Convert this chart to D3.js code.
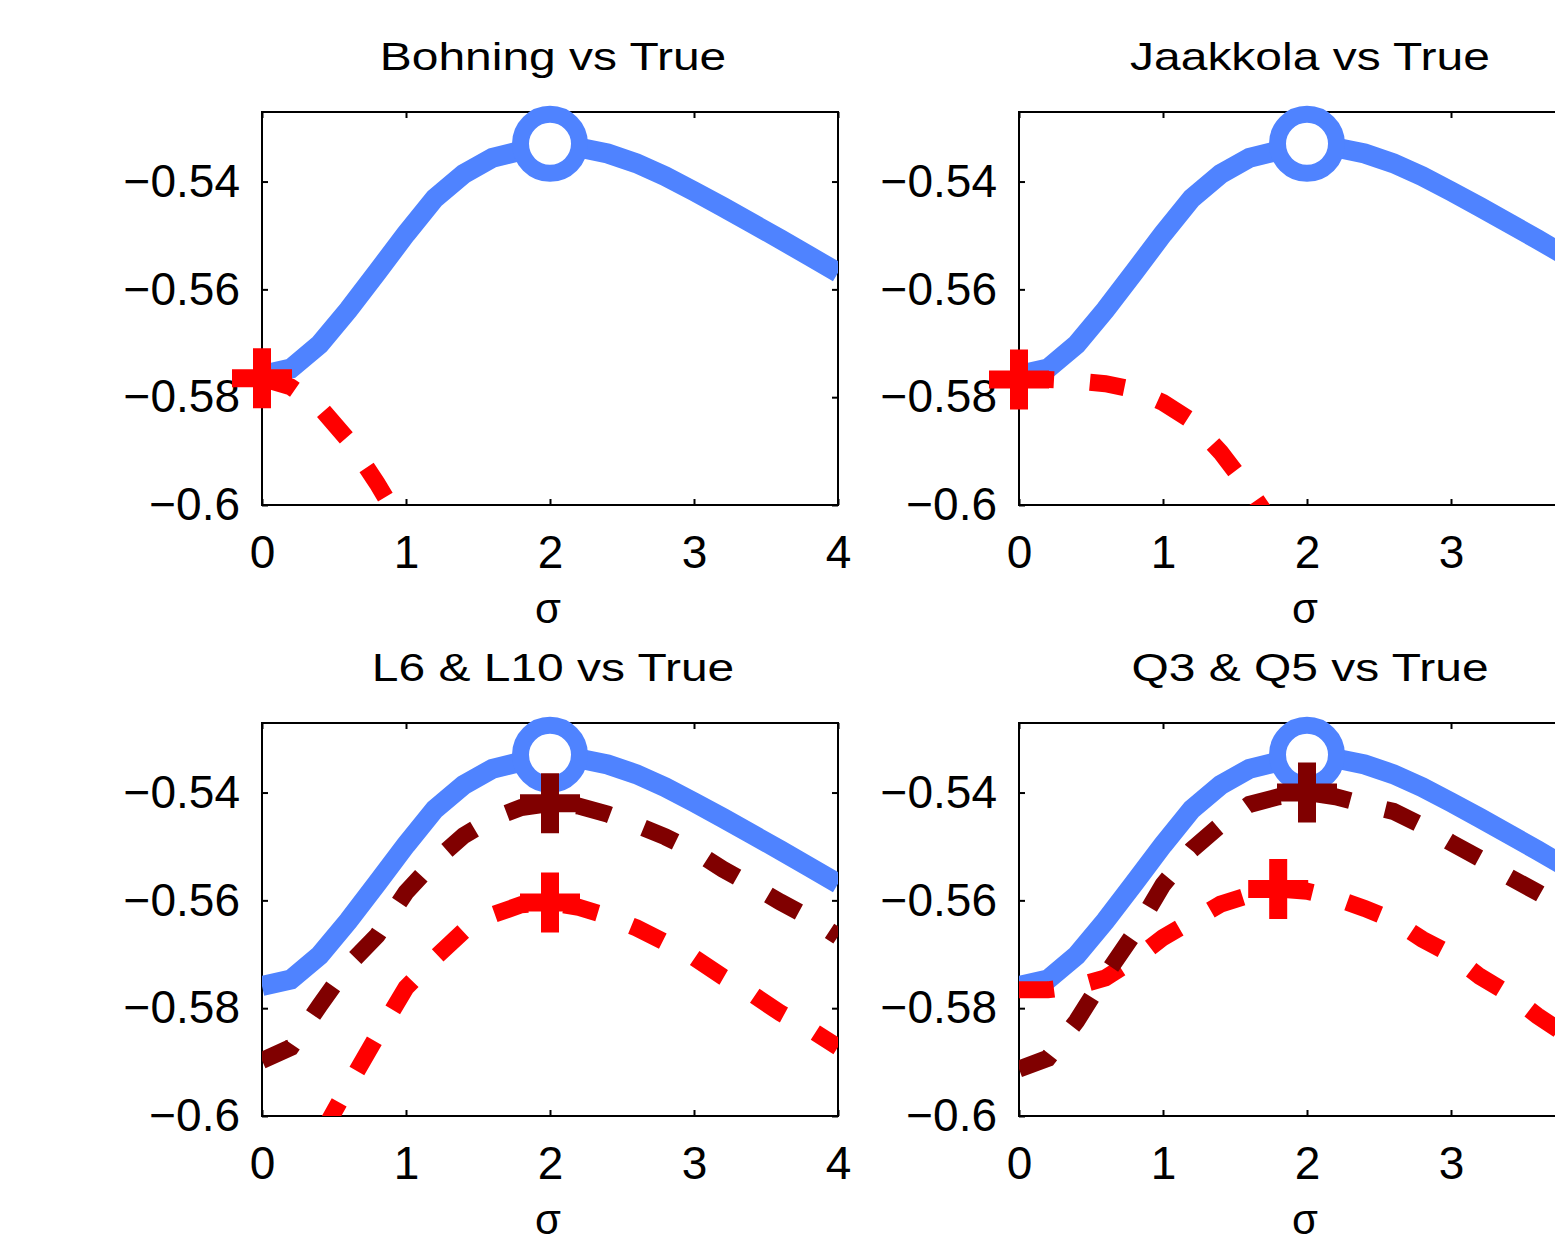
<!DOCTYPE html>
<html>
<head>
<meta charset="utf-8">
<script src="https://cdnjs.cloudflare.com/ajax/libs/d3/7.8.5/d3.min.js"></script>
<style>
  body { margin: 0; background: #fff; }
  text { font-family: "Liberation Sans", Arial, sans-serif; fill: #000; }
</style>
</head>
<body>
<div class="chart"></div>
<script>
//Data (sigma grid, step 0.2)
var sigma = [0, 0.2, 0.4, 0.6, 0.8, 1, 1.2, 1.4, 1.6, 1.8, 2, 2.2, 2.4, 2.6, 2.8, 3, 3.2, 3.4, 3.6, 3.8, 4];

var trueBound = [-0.5759, -0.5747, -0.5702, -0.5638, -0.5568, -0.5497, -0.5431, -0.5386, -0.5356, -0.5343, -0.5330,
  -0.5337, -0.5348, -0.5366, -0.5390, -0.5418, -0.5447, -0.5477, -0.5507, -0.5538, -0.5569];
var bohning = [-0.5765, -0.5781, -0.5818, -0.5880, -0.5960, -0.6050, -0.6170];
var jaakkola = [-0.5767, -0.5767, -0.5770, -0.5775, -0.5786, -0.5810, -0.5844, -0.5902, -0.5972, -0.6050, -0.6140];
var l6 = [-0.6270, -0.6150, -0.6040, -0.5944, -0.5851, -0.5762, -0.5707, -0.5657, -0.5627, -0.5608, -0.5604,
  -0.5613, -0.5629, -0.5651, -0.5678, -0.5706, -0.5742, -0.5773, -0.5809, -0.5838, -0.5872];
var l10 = [-0.5897, -0.5873, -0.5795, -0.5720, -0.5665, -0.5585, -0.5527, -0.5480, -0.5448, -0.5428, -0.5420,
  -0.5425, -0.5440, -0.5460, -0.5482, -0.5508, -0.5542, -0.5572, -0.5603, -0.5632, -0.5667];
var q3 = [-0.5766, -0.5766, -0.5759, -0.5744, -0.5710, -0.5669, -0.5638, -0.5607, -0.5590, -0.5579, -0.5583,
  -0.5596, -0.5615, -0.5637, -0.5672, -0.5700, -0.5741, -0.5773, -0.5814, -0.5850, -0.5890];
var q5 = [-0.5913, -0.5893, -0.5824, -0.5739, -0.5661, -0.5571, -0.5506, -0.5460, -0.5422, -0.5408, -0.5400,
  -0.5408, -0.5422, -0.5435, -0.5461, -0.5493, -0.5522, -0.5556, -0.5585, -0.5615, -0.5645];

var titles = ["Bohning vs True", "Jaakkola vs True", "L6 & L10 vs True", "Q3 & Q5 vs True"];
var xTicks = [0, 1, 2, 3, 4];
var xTickLabels = ["0", "1", "2", "3", "4"];
var yTicks = [-0.54, -0.56, -0.58, -0.6];
var yTickLabels = ["\u22120.54", "\u22120.56", "\u22120.58", "\u22120.6"];
var xLabel = "\u03c3";

//Define SVG
var svgWidth = 1555;
var svgHeight = 1243;
var width = 576;
var height = 393;

var red = "#ff0000";
var darkRed = "#800000";
var blue = "#4f83ff";

var panels = [
  {left: 262, top: 112, title: titles[0], bounds: [{values: bohning, color: red}]},
  {left: 1019, top: 112, title: titles[1], bounds: [{values: jaakkola, color: red}]},
  {left: 262, top: 723, title: titles[2], bounds: [{values: l6, color: red}, {values: l10, color: darkRed}]},
  {left: 1019, top: 723, title: titles[3], bounds: [{values: q3, color: red}, {values: q5, color: darkRed}]}
];

var svg = d3.select(".chart")
  .append("svg")
  .attr("width", svgWidth)
  .attr("height", svgHeight);

// Scales shared by all panels
var xScale = d3.scaleLinear().domain([0, 4]).range([0, width]);
var yScale = d3.scaleLinear().domain([-0.6, -0.5271]).range([height, 0]);

var line = d3.line()
  .x(d => xScale(d[0]))
  .y(d => yScale(d[1]));

function toPoints(values) {
  return values.map((v, i) => [sigma[i], v]);
}

function drawCross(g, x, y, color) {
  g.append("path")
    .attr("d", `M${x - 30},${y}H${x + 30}M${x},${y - 30}V${y + 30}`)
    .attr("stroke", color)
    .attr("stroke-width", 18)
    .attr("fill", "none");
}

panels.forEach(function(p, pi) {
  var g = svg.append("g")
    .attr("transform", `translate(${p.left}, ${p.top})`);

  g.append("clipPath")
    .attr("id", "clip" + pi)
    .append("rect")
    .attr("width", width)
    .attr("height", height);

  // Axes with inward ticks on all four sides
  // (labels that would sit past the page edge are left empty, like the cropped figure)
  var bottomAxis = d3.axisBottom(xScale).tickValues(xTicks).tickSizeInner(-6).tickSizeOuter(0).tickPadding(30)
    .tickFormat((d, i) => p.left + xScale(d) + 15 > svgWidth ? "" : xTickLabels[i]);
  var topAxis = d3.axisTop(xScale).tickValues(xTicks).tickSizeInner(-6).tickSizeOuter(0).tickFormat("");
  var leftAxis = d3.axisLeft(yScale).tickValues(yTicks).tickSizeInner(-6).tickSizeOuter(0).tickPadding(22)
    .tickFormat((d, i) => yTickLabels[i]);
  var rightAxis = d3.axisRight(yScale).tickValues(yTicks).tickSizeInner(-6).tickSizeOuter(0).tickFormat("");

  g.append("g").attr("transform", `translate(0, ${height})`).call(bottomAxis);
  g.append("g").call(topAxis);
  g.append("g").call(leftAxis);
  g.append("g").attr("transform", `translate(${width}, 0)`).call(rightAxis);

  g.selectAll(".domain").remove();
  g.selectAll(".tick line").attr("stroke", "#000").attr("stroke-width", 2);
  g.selectAll(".tick text")
    .attr("font-family", "'Liberation Sans', Arial, sans-serif")
    .attr("font-size", 46)
    .attr("fill", "#000");

  g.append("rect")
    .attr("width", width)
    .attr("height", height)
    .attr("fill", "none")
    .attr("stroke", "#000")
    .attr("stroke-width", 2);

  // Title and x label
  g.append("text")
    .attr("transform", `translate(${width / 2 + 3}, -42) scale(1.23, 1)`)
    .attr("text-anchor", "middle")
    .attr("font-size", 39)
    .text(p.title);

  g.append("text")
    .attr("x", width / 2 - 2)
    .attr("y", 511)
    .attr("text-anchor", "middle")
    .attr("font-size", 42)
    .text(xLabel);

  // True bound
  var truePts = toPoints(trueBound);
  g.append("path")
    .attr("d", line(truePts))
    .attr("clip-path", `url(#clip${pi})`)
    .attr("fill", "none")
    .attr("stroke", blue)
    .attr("stroke-width", 20);

  var tMax = d3.maxIndex(trueBound);
  g.append("circle")
    .attr("cx", xScale(sigma[tMax]))
    .attr("cy", yScale(trueBound[tMax]))
    .attr("r", 29.5)
    .attr("fill", "#fff")
    .attr("stroke", blue)
    .attr("stroke-width", 17);

  // Approximate bounds
  p.bounds.forEach(function(b) {
    g.append("path")
      .attr("d", line(toPoints(b.values)))
      .attr("clip-path", `url(#clip${pi})`)
      .attr("fill", "none")
      .attr("stroke", b.color)
      .attr("stroke-width", 17)
      .attr("stroke-dasharray", "35,36");

    var m = d3.maxIndex(b.values);
    drawCross(g, xScale(sigma[m]), yScale(b.values[m]), b.color);
  });
});
</script>
</body>
</html>
